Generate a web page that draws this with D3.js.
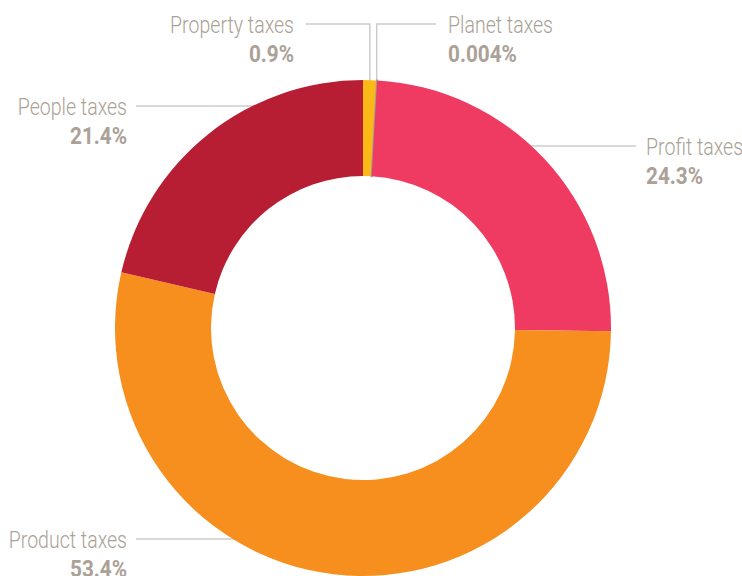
<!DOCTYPE html>
<html>
<head>
<meta charset="utf-8">
<script src="https://cdn.jsdelivr.net/npm/d3@7"></script>
<style>
  body { margin: 0; background: #fff; }
  .lbl { font-family: Roboto, "Liberation Sans", sans-serif; fill: #aba196; }
</style>
</head>
<body>
<div id="chart"><svg></svg></div>
<script>
// Tax shares, clockwise from 12 o'clock
const categories = ['Property taxes', 'Planet taxes', 'Profit taxes', 'Product taxes', 'People taxes'];
const shares = [0.9, 0.004, 24.3, 53.4, 21.4];
const shareLabels = ['0.9%', '0.004%', '24.3%', '53.4%', '21.4%'];
const colors = ['#fbb918', '#a39d99', '#ef3b61', '#f68f1e', '#b81e33'];

const width = 742, height = 576;
const cx = 363, cy = 328;
const outerR = 248, innerR = 152;

// label layout: anchor side, text x, label baseline, leader type
const labelLayout = [
  { side: 'end', x: 294, y: 33, lineX: 306, leader: 'vertical' },
  { side: 'start', x: 448, y: 33, lineX: 436, leader: 'vertical' },
  { side: 'start', x: 646, y: 155, lineX: 636, leader: 'horizontal' },
  { side: 'end', x: 127, y: 548, lineX: 136, leader: 'horizontal' },
  { side: 'end', x: 127, y: 115, lineX: 136, leader: 'horizontal' }
];

const data = categories.map((c, i) => ({ name: c, value: shares[i], pct: shareLabels[i], color: colors[i], layout: labelLayout[i] }));

const svg = d3.select('#chart').select('svg')
  .attr('width', width)
  .attr('height', height);

const pie = d3.pie().sort(null).value(d => d.value).startAngle(0).endAngle(2 * Math.PI);
const arcs = pie(data);

const arc = d3.arc().innerRadius(innerR).outerRadius(outerR);

// leader lines first so the slices cover their ends
const leaders = svg.append('g')
  .attr('fill', 'none')
  .attr('stroke', '#cccccc')
  .attr('stroke-width', 1.5);

arcs.forEach(a => {
  const L = a.data.layout;
  const lineY = L.y - 9;
  const mid = (a.startAngle + a.endAngle) / 2;
  if (L.leader === 'vertical') {
    const px = cx + (outerR - 6) * Math.sin(mid);
    const py = cy - (outerR - 6) * Math.cos(mid);
    leaders.append('path').attr('d', `M${L.lineX},${lineY}H${px}V${py}`);
  } else {
    const r = outerR - 10;
    const dy = lineY - cy;
    const dx = Math.sqrt(Math.max(0, r * r - dy * dy));
    const px = L.side === 'start' ? cx + dx : cx - dx;
    leaders.append('path').attr('d', `M${L.lineX},${lineY}H${px}`);
  }
});

svg.append('g')
  .attr('transform', `translate(${cx},${cy})`)
  .selectAll('path')
  .data(arcs)
  .join('path')
  .attr('d', arc)
  .attr('fill', d => d.data.color)
  .attr('stroke', d => d.data.name === 'Planet taxes' ? d.data.color : 'none')
  .attr('stroke-width', 2);

// condensed look: squeeze text horizontally
function addText(g, x, y, anchor, str, weight) {
  const t = g.append('g').attr('transform', `translate(${x},${y})`)
    .append('text')
    .attr('class', 'lbl')
    .attr('text-anchor', anchor)
    .style('font-size', '23px')
    .style('font-weight', weight)
    .text(str);
  return t;
}

const labels = svg.append('g');
const nameTexts = [], pctTexts = [];
data.forEach(d => {
  const L = d.layout;
  nameTexts.push(addText(labels, L.x, L.y, L.side, d.name, 300));
  pctTexts.push(addText(labels, L.x, L.y + 29, L.side, d.pct, 'bold'));
});

// fit widths of the reference's condensed face
const kName = 124 / nameTexts[0].node().getComputedTextLength();
const kPct = 57 / pctTexts[4].node().getComputedTextLength();
nameTexts.forEach(t => t.attr('transform', `scale(${kName},1)`));
pctTexts.forEach(t => t.attr('transform', `scale(${kPct},1)`));
</script>
</body>
</html>
